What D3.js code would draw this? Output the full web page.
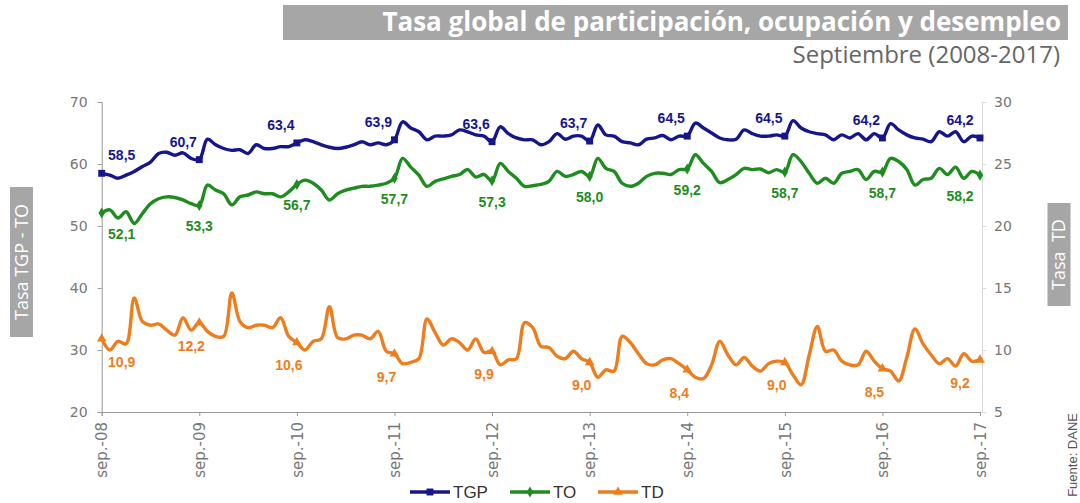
<!DOCTYPE html>
<html>
<head>
<meta charset="utf-8">
<script src="https://cdn.jsdelivr.net/npm/d3@7"></script>
<style>
body { margin: 0; background: #fff; }
svg { display: block; }
</style>
</head>
<body>
<div id="chart"></div>
<script>
// monthly series sep-08 .. sep-17 (DANE, total nacional)
var tickLabels = ["sep.-08", "sep.-09", "sep.-10", "sep.-11", "sep.-12", "sep.-13", "sep.-14", "sep.-15", "sep.-16", "sep.-17"];

var tgp = [58.5, 58.2, 57.7, 58.2, 58.8, 59.6, 60.3, 61.7, 61.9, 61.4, 61.8, 60.9, 60.7,
    64.0, 63.1, 62.5, 62.2, 62.3, 61.7, 63.1, 62.5, 62.5, 62.8, 62.8, 63.4,
    63.9, 63.6, 63.1, 62.7, 62.5, 62.7, 63.1, 63.6, 63.1, 63.4, 63.1, 63.9,
    66.8, 65.8, 65.2, 63.9, 64.5, 64.5, 64.7, 65.5, 65.2, 64.7, 64.5, 63.6,
    66.0, 64.9, 64.2, 63.9, 63.9, 63.1, 63.6, 64.9, 64.0, 64.5, 64.5, 63.7,
    66.3, 64.7, 64.5, 63.6, 63.4, 63.1, 64.0, 64.2, 64.6, 63.9, 64.5, 64.5,
    66.6, 65.8, 65.0, 64.2, 63.9, 64.0, 65.5, 64.9, 64.5, 64.5, 64.7, 64.5,
    67.0, 65.8, 65.2, 64.9, 64.7, 63.9, 64.7, 64.2, 64.9, 63.9, 64.9, 64.2,
    66.5, 65.5, 64.7, 64.2, 64.0, 63.6, 65.2, 64.5, 65.2, 63.6, 64.5, 64.2];

var to = [52.1, 52.6, 51.3, 52.3, 50.4, 52.0, 53.6, 54.4, 54.7, 54.6, 54.2, 53.6, 53.3,
    56.6, 55.8, 55.2, 53.4, 54.7, 55.0, 55.5, 55.2, 55.2, 54.7, 55.5, 56.7,
    57.4, 56.9, 55.8, 54.2, 55.2, 55.8, 56.1, 56.4, 56.4, 56.6, 56.9, 57.7,
    60.9, 59.5, 58.2, 56.4, 57.2, 57.6, 58.0, 58.3, 59.1, 57.9, 58.3, 57.3,
    60.1, 58.8, 57.7, 56.4, 56.5, 56.7, 57.2, 58.8, 58.0, 58.3, 58.8, 58.0,
    60.9, 59.3, 58.8, 56.9, 56.4, 56.9, 58.0, 58.5, 58.5, 58.3, 59.1, 59.2,
    61.5, 60.1, 58.8, 57.0, 57.5, 58.3, 59.3, 59.1, 59.2, 58.6, 59.1, 58.7,
    61.5, 60.4, 58.5, 56.9, 57.7, 56.9, 58.5, 58.8, 59.1, 57.5, 58.8, 58.7,
    60.9, 60.4, 59.1, 56.6, 57.5, 57.7, 59.3, 58.3, 59.5, 57.7, 58.8, 58.2];

var td = [10.9, 10.0, 10.7, 10.5, 14.2, 12.3, 12.0, 12.1, 11.6, 11.2, 12.6, 11.6, 12.2,
    11.5, 11.1, 11.1, 14.6, 12.3, 11.8, 12.0, 12.0, 11.8, 12.6, 11.1, 10.6,
    10.0, 10.7, 10.9, 13.5, 11.0, 10.9, 11.2, 11.2, 10.9, 11.5, 9.9, 9.7,
    8.9, 9.0, 9.3, 12.5, 11.4, 10.4, 10.9, 10.6, 10.0, 10.9, 9.8, 9.9,
    8.8, 9.2, 9.3, 12.2, 11.8, 10.3, 10.2, 9.5, 9.3, 9.9, 9.3, 9.0,
    7.8, 8.4, 8.3, 11.1, 10.6, 9.7, 8.9, 8.8, 9.2, 9.3, 8.9, 8.4,
    7.8, 7.7, 8.8, 10.7, 9.6, 8.8, 9.4, 8.7, 8.3, 8.9, 9.1, 9.0,
    8.0, 7.2, 9.6, 11.9, 9.9, 10.0, 9.1, 8.8, 8.8, 9.9, 9.1, 8.5,
    8.3, 7.5, 9.4, 11.7, 10.5, 9.6, 8.9, 9.3, 8.7, 9.7, 9.1, 9.2];

var leftTicks = [20, 30, 40, 50, 60, 70];
var rightTicks = [5, 10, 15, 20, 25, 30];

var width = 1080, height = 503;
var plotLeft = 101.7, plotRight = 982, plotTop = 102, plotBottom = 412;

var svg = d3.select("#chart").append("svg")
    .attr("width", width)
    .attr("height", height)
    .style("font-family", "'Liberation Sans', Arial, sans-serif");

var x = d3.scaleLinear().domain([0, tgp.length - 1]).range([plotLeft, 980]);
var yL = d3.scaleLinear().domain([20, 70]).range([plotBottom, plotTop]);
var yR = d3.scaleLinear().domain([5, 30]).range([plotBottom, plotTop]);

var fmt = d3.formatLocale({ decimal: ",", thousands: ".", grouping: [3], currency: ["$", ""] }).format(".1f");

// title
svg.append("rect").attr("x", 283).attr("y", 5).attr("width", 785).attr("height", 35).attr("fill", "#a6a6a6");
svg.append("text")
    .attr("x", 1061).attr("y", 31)
    .attr("text-anchor", "end")
    .style("font-family", "'Open Sans', sans-serif")
    .style("font-weight", "bold")
    .style("font-size", "26px")
    .attr("fill", "#fff")
    .text("Tasa global de participación, ocupación y desempleo");
svg.append("text")
    .attr("x", 1060).attr("y", 63)
    .attr("text-anchor", "end")
    .style("font-family", "'Open Sans', sans-serif")
    .style("font-size", "24px")
    .attr("fill", "#666")
    .text("Septiembre (2008-2017)");

// axes
var axisL = svg.append("g").attr("transform", "translate(" + plotLeft + ",0)")
    .call(d3.axisLeft(yL).tickValues(leftTicks).tickSize(4).tickPadding(10));
var axisR = svg.append("g").attr("transform", "translate(" + plotRight + ",0)")
    .call(d3.axisRight(yR).tickValues(rightTicks).tickSize(4).tickPadding(8));
var axisB = svg.append("g").attr("transform", "translate(0," + plotBottom + ")")
    .call(d3.axisBottom(x).tickValues(d3.range(0, tgp.length, 12)).tickSize(4)
        .tickFormat(function (d, i) { return tickLabels[i]; }));

[axisL, axisR, axisB].forEach(function (g) {
    g.select(".domain").attr("stroke", "#999");
    g.selectAll(".tick line").attr("stroke", "#999");
    g.selectAll("text")
        .attr("fill", "#777")
        .style("font-family", "'DejaVu Sans', sans-serif")
        .style("font-size", "14px");
});
axisR.select(".domain").attr("stroke", "#d9d9d9");
axisR.selectAll(".tick line").attr("stroke", "#d9d9d9");
axisB.selectAll("text")
    .style("font-size", "15px")
    .attr("text-anchor", "end")
    .attr("transform", "rotate(-90)")
    .attr("x", -10).attr("y", 0).attr("dy", "0.35em");

// axis titles
function axisTitle(cx, cy, w, label) {
    var g = svg.append("g").attr("transform", "translate(" + cx + "," + cy + ") rotate(-90)");
    g.append("rect").attr("x", -w / 2).attr("y", -11.5).attr("width", w).attr("height", 23).attr("fill", "#a6a6a6");
    g.append("text").attr("text-anchor", "middle").attr("dy", "0.36em")
        .style("font-family", "'Open Sans', sans-serif").style("font-size", "18px")
        .attr("fill", "#fff").attr("xml:space", "preserve").text(label);
}
axisTitle(21.5, 262, 150, "Tasa TGP - TO");
axisTitle(1059, 254.5, 103, "Tasa  TD");

// series
var series = [
    { name: "TGP", values: tgp, y: yL, color: "#16168c", symbol: d3.symbolSquare, size: 48, dx: -16, dy: -18 },
    { name: "TO", values: to, y: yL, color: "#1f8c1f", symbol: d3.symbolDiamond, size: 36, dx: 0, dy: 21 },
    { name: "TD", values: td, y: yR, color: "#ed7d1d", symbol: d3.symbolTriangle, size: 40, dx: -8, dy: 23 }
];

var sept = d3.range(0, tgp.length, 12);

series.forEach(function (s) {
    var line = d3.line()
        .x(function (d, i) { return x(i); })
        .y(function (d) { return s.y(d); })
        .curve(d3.curveCatmullRom.alpha(0.5));

    svg.append("path")
        .datum(s.values)
        .attr("fill", "none")
        .attr("stroke", s.color)
        .attr("stroke-width", 3.4)
        .attr("stroke-linejoin", "round")
        .attr("d", line);

    svg.selectAll(".m-" + s.name)
        .data(sept)
        .enter().append("path")
        .attr("class", "m-" + s.name)
        .attr("transform", function (i) { return "translate(" + x(i) + "," + s.y(s.values[i]) + ")"; })
        .attr("d", d3.symbol().type(s.symbol).size(s.size))
        .attr("fill", s.color);

    svg.selectAll(".l-" + s.name)
        .data(sept)
        .enter().append("text")
        .attr("class", "l-" + s.name)
        .attr("x", function (i) { return Math.max(plotLeft + 20, Math.min(960, x(i) + s.dx)); })
        .attr("y", function (i) { return s.y(s.values[i]) + s.dy; })
        .attr("dy", "0.35em")
        .attr("text-anchor", "middle")
        .style("font-size", "14px")
        .style("font-weight", "bold")
        .attr("fill", s.color)
        .text(function (i) { return fmt(s.values[i]); });
});

// legend
var legendX = [410, 510, 598];
series.forEach(function (s, k) {
    var g = svg.append("g").attr("transform", "translate(" + legendX[k] + ",492)");
    g.append("line").attr("x1", 0).attr("x2", 40).attr("stroke", s.color).attr("stroke-width", 3.4);
    g.append("path").attr("transform", "translate(20,0)")
        .attr("d", d3.symbol().type(s.symbol).size(s.size)).attr("fill", s.color);
    g.append("text").attr("x", 43).attr("dy", "0.36em")
        .style("font-size", "17px").attr("fill", "#333").text(s.name);
});

// source
svg.append("text")
    .attr("transform", "translate(1077,413) rotate(-90)")
    .attr("text-anchor", "end")
    .style("font-size", "13px")
    .attr("fill", "#555")
    .text("Fuente: DANE");
</script>
</body>
</html>
